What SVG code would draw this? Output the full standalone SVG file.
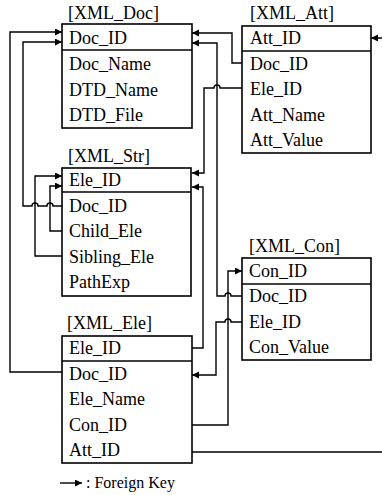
<svg xmlns="http://www.w3.org/2000/svg" width="382" height="495" viewBox="0 0 382 495">
  <style>
    text { font-family: "Liberation Serif", "Times New Roman", serif; font-size: 18px; fill: #000; }
    .legend { font-size: 16px; }
    .box { fill: #fff; stroke: #000; stroke-width: 1.6; }
    .sep { stroke: #000; stroke-width: 1.6; }
    .conn { fill: none; stroke: #000; stroke-width: 1.4; }
  </style>
  <defs>
    <marker id="arrow" markerUnits="userSpaceOnUse" markerWidth="8" markerHeight="8" refX="7" refY="3.5" orient="auto">
      <path d="M0,0 L7,3.5 L0,7 z" fill="#000"/>
    </marker>
  </defs>

  <rect width="382" height="495" fill="#fff"/>

  <!-- connectors: line hops are small upward arcs -->
  <g id="connectors">
    <!-- XML_Ele.Doc_ID -> XML_Doc.Doc_ID -->
    <path class="conn" marker-end="url(#arrow)" d="M62,372 H10 V32 H62"/>
    <!-- XML_Str.Doc_ID -> XML_Doc.Doc_ID -->
    <path class="conn" marker-end="url(#arrow)" d="M62,206 H53 A3,3 0 0 0 47,206 H38 A3,3 0 0 0 32,206 H23 V42 H62"/>
    <!-- XML_Str.Sibling_Ele -> XML_Str.Ele_ID -->
    <path class="conn" marker-end="url(#arrow)" d="M62,256 H35 V176 H62"/>
    <!-- XML_Str.Child_Ele -> XML_Str.Ele_ID -->
    <path class="conn" marker-end="url(#arrow)" d="M62,231 H50 V186 H62"/>
    <!-- XML_Att.Doc_ID -> XML_Doc.Doc_ID -->
    <path class="conn" marker-end="url(#arrow)" d="M242,63 H232 V33 H192"/>
    <!-- XML_Con.Doc_ID -> XML_Doc.Doc_ID -->
    <path class="conn" marker-end="url(#arrow)" d="M242,296 H231 A3,3 0 0 0 225,296 H217 V43 H192"/>
    <!-- XML_Att.Ele_ID -> XML_Str.Ele_ID -->
    <path class="conn" marker-end="url(#arrow)" d="M242,88 H220 A3,3 0 0 0 214,88 H204 V173 H192"/>
    <!-- XML_Ele.Ele_ID -> XML_Str.Ele_ID -->
    <path class="conn" marker-end="url(#arrow)" d="M192,348 H203 V187 H192"/>
    <!-- XML_Con.Ele_ID -> XML_Ele -->
    <path class="conn" marker-end="url(#arrow)" d="M242,322 H231 A3,3 0 0 0 225,322 H216 V375 H192"/>
    <!-- XML_Ele.Con_ID -> XML_Con.Con_ID -->
    <path class="conn" marker-end="url(#arrow)" d="M192,425 H228 V271 H242"/>
    <!-- XML_Ele.Att_ID -> XML_Att.Att_ID (routed past the right edge) -->
    <path class="conn" marker-end="url(#arrow)" d="M192,452 H392 V38 H371"/>
  </g>

  <g id="XML_Doc">
    <text x="68" y="19">[XML_Doc]</text>
    <rect class="box" x="62" y="24" width="130" height="104"/>
    <line class="sep" x1="62" y1="50" x2="192" y2="50"/>
    <text x="69" y="44">Doc_ID</text>
    <text x="69" y="70">Doc_Name</text>
    <text x="69" y="96">DTD_Name</text>
    <text x="69" y="121">DTD_File</text>
  </g>

  <g id="XML_Att">
    <text x="250" y="19">[XML_Att]</text>
    <rect class="box" x="242" y="26" width="129" height="127"/>
    <line class="sep" x1="242" y1="51" x2="371" y2="51"/>
    <text x="250" y="44">Att_ID</text>
    <text x="250" y="70">Doc_ID</text>
    <text x="250" y="95">Ele_ID</text>
    <text x="250" y="121">Att_Name</text>
    <text x="250" y="146">Att_Value</text>
  </g>

  <g id="XML_Str">
    <text x="68" y="162">[XML_Str]</text>
    <rect class="box" x="62" y="168" width="129" height="128"/>
    <line class="sep" x1="62" y1="192" x2="191" y2="192"/>
    <text x="69" y="186">Ele_ID</text>
    <text x="69" y="212">Doc_ID</text>
    <text x="69" y="237">Child_Ele</text>
    <text x="69" y="263">Sibling_Ele</text>
    <text x="69" y="288">PathExp</text>
  </g>

  <g id="XML_Con">
    <text x="249" y="252">[XML_Con]</text>
    <rect class="box" x="242" y="258" width="129" height="102"/>
    <line class="sep" x1="242" y1="284" x2="371" y2="284"/>
    <text x="249" y="277">Con_ID</text>
    <text x="249" y="302">Doc_ID</text>
    <text x="249" y="328">Ele_ID</text>
    <text x="249" y="353">Con_Value</text>
  </g>

  <g id="XML_Ele">
    <text x="67" y="329">[XML_Ele]</text>
    <rect class="box" x="62" y="336" width="130" height="127"/>
    <line class="sep" x1="62" y1="361" x2="192" y2="361"/>
    <text x="69" y="354">Ele_ID</text>
    <text x="69" y="380">Doc_ID</text>
    <text x="69" y="405">Ele_Name</text>
    <text x="69" y="431">Con_ID</text>
    <text x="69" y="456">Att_ID</text>
  </g>

  <g id="legend">
    <line class="conn" x1="60" y1="483" x2="82" y2="483" marker-end="url(#arrow)"/>
    <text class="legend" x="86" y="488">: Foreign Key</text>
  </g>
</svg>
